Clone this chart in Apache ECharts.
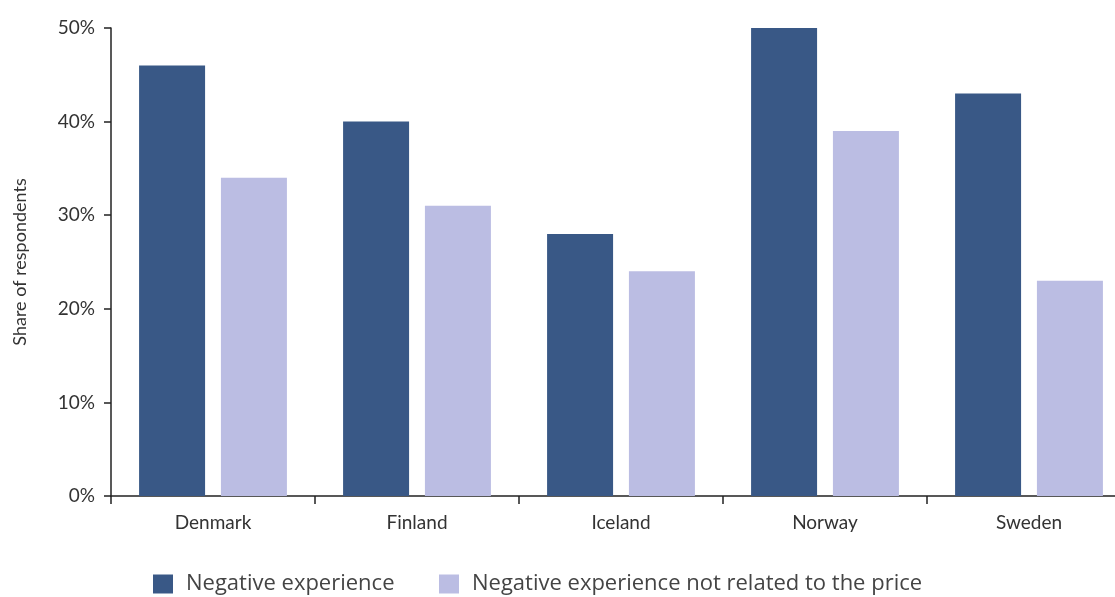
<!DOCTYPE html>
<html><head><meta charset="utf-8">
<script src="https://cdn.jsdelivr.net/npm/echarts@6/dist/echarts.min.js"></script>
<style>html,body{margin:0;padding:0;background:#fff;overflow:hidden;width:1115px;height:597px}#c{width:1131px;height:597px}</style>
</head><body><div id="c"></div>
<script>
const categories = ['Denmark','Finland','Iceland','Norway','Sweden'];
const negativeExperience = [46, 40, 28, 50, 43];
const negativeNotPrice = [34, 31, 24, 39, 23];
const seriesNames = ['Negative experience','Negative experience not related to the price'];
const yTicks = [0,10,20,30,40,50];

const chart = echarts.init(document.getElementById('c'));
const font = 'Lato, "Open Sans", sans-serif';
const legendText = {fontFamily:'"Open Sans", sans-serif', fontSize:22, color:'#444', padding:[0,0,0,8]};
chart.setOption({
  animation:false,
  grid:{left:111, right:0, top:28, bottom:101, containLabel:false},
  legend:[
    {data:[seriesNames[0]], top:573, left:153, itemWidth:20, itemHeight:19, padding:0, icon:'rect', textStyle:legendText},
    {data:[seriesNames[1]], top:573, left:439, itemWidth:20, itemHeight:19, padding:0, icon:'rect', textStyle:legendText}
  ],
  xAxis:{
    type:'category', data:categories,
    axisLine:{lineStyle:{color:'#222', width:1.5}},
    axisTick:{show:true, length:8, lineStyle:{color:'#222', width:1.5}},
    axisLabel:{fontFamily:font, fontSize:19, color:'#333', margin:17}
  },
  yAxis:{
    type:'value', min:0, max:50, interval:10,
    name:'Share of respondents', nameLocation:'middle', nameGap:82,
    nameTextStyle:{fontFamily:font, fontSize:18, color:'#333'},
    axisLine:{show:true, lineStyle:{color:'#222', width:1.5}},
    axisTick:{show:true, length:7, lineStyle:{color:'#222', width:1.5}},
    axisLabel:{fontFamily:font, fontSize:19, color:'#333', margin:16, formatter:v=>v+'%'},
    splitLine:{show:false}
  },
  series:[
    {name:seriesNames[0], type:'bar', data:negativeExperience, barWidth:66, barGap:'24%', itemStyle:{color:'#395886'}},
    {name:seriesNames[1], type:'bar', data:negativeNotPrice, barWidth:66, itemStyle:{color:'#bbbde3'}}
  ]
});
</script></body></html>
